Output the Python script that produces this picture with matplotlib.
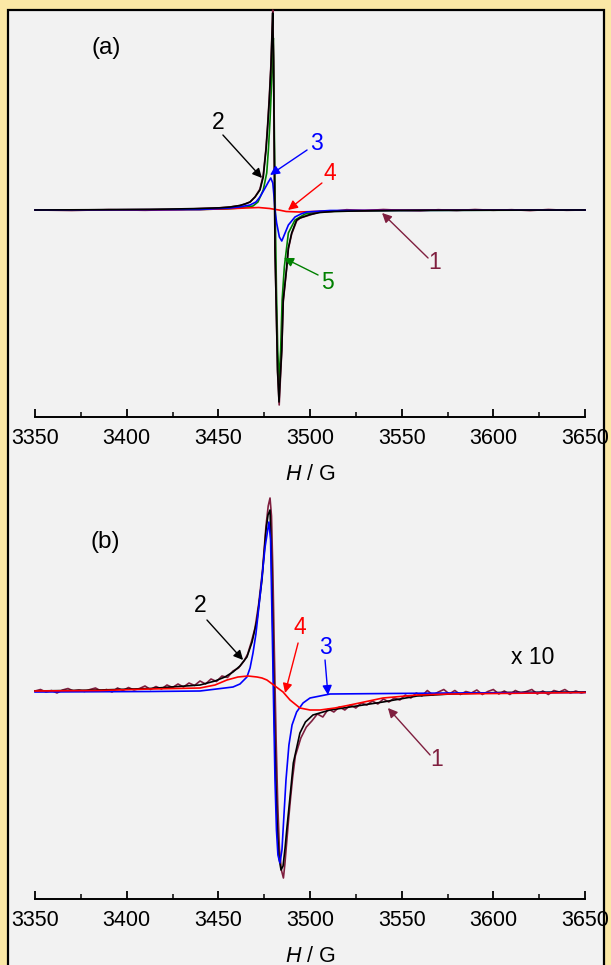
import matplotlib
matplotlib.use("Agg")
import matplotlib.pyplot as plt
from matplotlib.patches import Rectangle
from matplotlib.ticker import MultipleLocator

plt.rcParams['font.family'] = ['Liberation Sans', 'DejaVu Sans']
plt.rcParams['mathtext.fontset'] = 'custom'
plt.rcParams['mathtext.it'] = 'Liberation Sans:italic'
plt.rcParams['mathtext.rm'] = 'Liberation Sans'

MAROON = '#7f1f3f'
GREEN = '#008000'

# ---- panel (a): field (G) and derivative signal (arb. units) ----
a1_H = [3350, 3370, 3390, 3410, 3430, 3440, 3450.9, 3456.4, 3461.8, 3464.5, 3467.3, 3470.0,
        3472.7, 3474.5, 3476.0, 3476.9, 3477.8, 3478.7, 3479.3, 3479.7, 3480.1, 3480.5, 3480.9,
        3481.5, 3482.3, 3483.2, 3483.7, 3484.6, 3485.4, 3487.3, 3488.2, 3490.0, 3492.7, 3494.6,
        3500.0, 3505, 3512, 3520, 3530, 3540, 3550, 3560, 3570, 3580, 3590, 3600, 3610, 3620,
        3630, 3640, 3650]
a1_y = [0, -0.5, 0.3, -0.3, 0.5, 1.5, 2.2, 3, 4.5, 6, 8, 13,
        21, 35, 62, 86, 113, 146, 180, 200, 152, 62, -38,
        -90, -162, -195, -175, -141, -92, -58, -39, -24, -11, -8,
        -5, -2, -1.5, 0.3, -0.6, 0.5, -0.3, -0.8, 0.3, -0.5, 0.5, -0.3, 0.3, -0.6,
        0.5, -0.3, 0]

a2_H = [3350, 3385, 3412.7, 3440, 3450.9, 3456.4, 3461.8, 3464.5, 3467.3, 3470.0, 3472.7, 3474.5,
        3476.0, 3476.9, 3477.8, 3478.7, 3479.3, 3479.65, 3480.1, 3480.5, 3480.9, 3481.5, 3482.3,
        3483.1, 3483.6, 3484.6, 3485.4, 3487.3, 3488.2, 3490.0, 3492.7, 3494.6, 3500.0, 3505.5,
        3512.5, 3530, 3560, 3650]
a2_y = [0, 0.3, 0.6, 1.5, 2.2, 3, 4.5, 6, 8, 13, 20, 33,
        60, 83, 110, 143, 177, 197, 150, 60, -40, -90, -160,
        -192, -173, -140, -90, -57, -38, -23, -10, -8, -4.5, -2.5,
        -1.5, -0.8, -0.3, 0]

a3_H = [3350, 3440, 3456.4, 3462, 3467.3, 3470.5, 3472.7, 3475.5, 3477.3, 3478.6, 3479.7, 3480.4,
        3480.9, 3481.8, 3483.3, 3484.6, 3486.4, 3488.2, 3491.8, 3495, 3498.2, 3510.9, 3650]
a3_y = [0, 0.5, 2, 3.2, 5, 8, 13, 22, 28, 32, 27, 13,
        0, -13, -27, -31, -23, -15, -7, -4, -2, -0.5, 0]

a4_H = [3350, 3440, 3455, 3465, 3472, 3478, 3483, 3487, 3494, 3502, 3515, 3537, 3570, 3650]
a4_y = [0, 0.5, 1.2, 2, 2.5, 1.5, 0, -1.5, -2, -1.5, -0.8, -0.3, 0, 0]

a5_H = [3350, 3440, 3455, 3461.8, 3468.9, 3471.6, 3474.5, 3476.4, 3477.3, 3478.2, 3479.0, 3479.4,
        3480.0, 3480.3, 3480.8, 3481.2, 3481.7, 3482.4, 3483.1, 3484.0, 3484.8, 3486.0,
        3488.2, 3491.8, 3497.3, 3505.5, 3549.1, 3650]
a5_y = [0, 0.5, 1.2, 2, 4, 8, 20, 37, 60, 90, 125, 143,
        172, 120, 40, -20, -80, -140, -172, -140, -90, -57,
        -23, -10, -4, -1.5, -0.5, 0]

# ---- panel (b): x 10 ----
b1_H = [3350, 3353, 3356, 3359, 3362, 3365, 3368, 3371, 3374, 3377, 3380, 3383, 3386, 3389,
        3392, 3395, 3398, 3401, 3404, 3407, 3410, 3413, 3416, 3419, 3422, 3425, 3428, 3431,
        3434, 3437, 3440, 3443, 3446, 3449, 3452, 3455, 3458, 3461, 3464,
        3466, 3468, 3470, 3472, 3474, 3476, 3477.2, 3478.2, 3479.0, 3479.8, 3480.6, 3481.5,
        3482.4, 3483.3, 3484.4, 3485.5, 3486.3, 3487.3, 3488.3, 3489.3, 3490.5, 3492,
        3495, 3498, 3501, 3504, 3507, 3510, 3513, 3516, 3519, 3522, 3525, 3528, 3531, 3534,
        3537, 3540, 3543, 3546, 3549, 3552, 3555, 3558, 3561, 3564, 3567, 3570, 3573, 3576,
        3579, 3582, 3585, 3588, 3591, 3594, 3597, 3600, 3603, 3606, 3609, 3612, 3615, 3618,
        3621, 3624, 3627, 3630, 3633, 3636, 3639, 3642, 3645, 3648, 3650]
b1_y = [1, 2.5, 0, 1.5, -1, 2, 3.5, 1, 2, 0.5, 2.5, 4, 1, 2.5,
        0, 4, 1.5, 4.5, 2, 3.5, 6, 2.5, 5.5, 3, 7, 4.5, 8, 5,
        9, 6.5, 11, 8, 13, 10.5, 16, 14.5, 21, 24, 31,
        38, 50, 64, 88, 120, 166, 186, 194, 176, 116, 36, -46,
        -112, -156, -178, -186, -172, -150, -128, -108, -86, -64,
        -46, -35, -29, -22, -25, -17, -20, -15, -18, -13, -16, -11, -13, -9,
        -12, -7, -10, -6, -8, -3, -6, -1, -4, 1.5, -3, 0, 2.5, -2,
        1.5, -2.5, 0.5, -1, 2, -2.5, 0.5, 2.5, -2, 1, -2.5, 1.5, -1, 0.5,
        2.5, -2, 1, -2.5, 1.5, 0, 2.5, -1, 1, -1, 0]

b2_H = [3350, 3385.5, 3412.7, 3440, 3448.2, 3453.6, 3458, 3461.8, 3465.6, 3468.4, 3471.1, 3473.8,
        3476.0, 3477.1, 3478.2, 3479.0, 3479.8, 3480.6, 3481.5, 3482.2, 3483.1, 3484.2, 3485.3,
        3486.4, 3487.3, 3489.1, 3490.9, 3494.5, 3497.5, 3501.6, 3510.9, 3521.8, 3539.8, 3558.4,
        3576.4, 3603.6, 3650]
b2_y = [1, 2, 3.5, 7, 11, 15, 20, 26, 35, 50, 72, 112,
        162, 177, 182, 132, 52, -28, -98, -138, -166, -178, -174,
        -156, -138, -105, -71, -41, -30, -23, -18, -15, -10, -4,
        -2, -0.5, 0]

b3_H = [3350, 3412.7, 3440, 3458, 3461.8, 3465.6, 3467.3, 3468.9, 3470.5, 3472.7, 3475.5, 3477.6,
        3478.5, 3479.3, 3480.1, 3480.9, 3481.7, 3482.5, 3483.6, 3484.7, 3485.8, 3486.9, 3488.5,
        3490.2, 3492.7, 3496.2, 3500, 3510.9, 3576.4, 3650]
b3_y = [0, 0.5, 1, 5, 8, 15, 24, 39, 58, 95, 145, 170,
        152, 72, -8, -88, -138, -163, -171, -158, -123, -88, -53,
        -33, -20, -11, -6, -2, -1, -0.5]

b4_H = [3350, 3385.5, 3412.7, 3440, 3448.2, 3454.7, 3460.7, 3466.2, 3471.1, 3473.8, 3476.5, 3480.9,
        3485.3, 3489.1, 3494.5, 3500, 3505.5, 3513.6, 3521.8, 3539.8, 3558.4, 3576.4, 3650]
b4_y = [1, 1.5, 3, 4, 7, 12, 15, 16, 15, 14, 12, 6,
        0, -8, -16, -18, -18, -16, -13, -6, -3, -2, -0.5]

fig = plt.figure(figsize=(6.11, 9.65), dpi=100, facecolor='#fbe8a6')
fig.add_artist(Rectangle((8 / 611, -0.01), 596 / 611, 955 / 965 + 0.01, transform=fig.transFigure,
                         facecolor='#f2f2f2', edgecolor='black', lw=1.6, zorder=0))

W = 611.0
H = 965.0
ax_a = fig.add_axes([35 / W, 1 - 417 / H, 550 / W, 407 / H])
ax_b = fig.add_axes([35 / W, 1 - 899 / H, 550 / W, 419 / H])
ax_a.set_ylim(-207, 200)
ax_b.set_ylim(-207, 212)


def style_axis(ax):
    ax.set_facecolor('none')
    ax.set_xlim(3350, 3650)
    for s in ['left', 'right', 'top']:
        ax.spines[s].set_visible(False)
    ax.spines['bottom'].set_linewidth(1.4)
    ax.set_yticks([])
    ax.xaxis.set_major_locator(MultipleLocator(50))
    ax.xaxis.set_minor_locator(MultipleLocator(25))
    ax.tick_params(axis='x', which='major', direction='in', length=6, width=1.3,
                   labelsize=15.5, pad=8)
    ax.tick_params(axis='x', which='minor', direction='in', length=3.5, width=1.1)
    ax.set_xlabel(r'$H$ / G', fontsize=15.5, labelpad=10.5)


def arrow(ax, start, tip, color):
    ax.annotate('', xy=tip, xytext=start,
                arrowprops=dict(arrowstyle='-|>', color=color, lw=1.0, mutation_scale=14,
                                shrinkA=0, shrinkB=0))


for ax in (ax_a, ax_b):
    style_axis(ax)

lw = 1.2
ax_a.plot(a1_H, a1_y, color=MAROON, lw=1.2, clip_on=False)
ax_a.plot(a4_H, a4_y, color='red', lw=lw, clip_on=False)
ax_a.plot(a3_H, a3_y, color='blue', lw=lw, clip_on=False)
ax_a.plot(a2_H, a2_y, color='black', lw=lw, clip_on=False)
ax_a.plot(a5_H, a5_y, color=GREEN, lw=lw, clip_on=False, zorder=1.9)

ax_b.plot(b1_H, b1_y, color=MAROON, lw=lw, clip_on=False)
ax_b.plot(b2_H, b2_y, color='black', lw=lw, clip_on=False)
ax_b.plot(b3_H, b3_y, color='blue', lw=lw, clip_on=False)
ax_b.plot(b4_H, b4_y, color='red', lw=lw, clip_on=False)

fs = 16.5
fp = 17.5
ax_a.text(3389, 162, '(a)', fontsize=fp, ha='center', va='center')
ax_a.text(3449.8, 88, '2', fontsize=fs, ha='center', va='center', color='black')
arrow(ax_a, (3452.5, 75), (3473.8, 32), 'black')
ax_a.text(3503.8, 67, '3', fontsize=fs, ha='center', va='center', color='blue')
arrow(ax_a, (3498.4, 60), (3478.2, 35), 'blue')
ax_a.text(3510.9, 37, '4', fontsize=fs, ha='center', va='center', color='red')
arrow(ax_a, (3506.5, 27), (3488, 0), 'red')
ax_a.text(3509.8, -72, '5', fontsize=fs, ha='center', va='center', color=GREEN)
arrow(ax_a, (3504.4, -65), (3485.8, -48), GREEN)
ax_a.text(3568.2, -52, '1', fontsize=fs, ha='center', va='center', color=MAROON)
arrow(ax_a, (3564.4, -48), (3539.3, -3), MAROON)

ax_b.text(3388.2, 150, '(b)', fontsize=fp, ha='center', va='center')
ax_b.text(3440, 87, '2', fontsize=fs, ha='center', va='center', color='black')
arrow(ax_b, (3443.8, 72), (3463.5, 32), 'black')
ax_b.text(3494.5, 64, '4', fontsize=fs, ha='center', va='center', color='red')
arrow(ax_b, (3493.5, 49), (3486.4, -1), 'red')
ax_b.text(3508.2, 44, '3', fontsize=fs, ha='center', va='center', color='blue')
arrow(ax_b, (3508.2, 32), (3509.8, -3), 'blue')
ax_b.text(3621.6, 35, 'x 10', fontsize=fs, ha='center', va='center')
ax_b.text(3569.3, -68, '1', fontsize=fs, ha='center', va='center', color=MAROON)
arrow(ax_b, (3565.5, -63), (3542.5, -16), MAROON)

fig.savefig('out.png', dpi=100, facecolor=fig.get_facecolor())
